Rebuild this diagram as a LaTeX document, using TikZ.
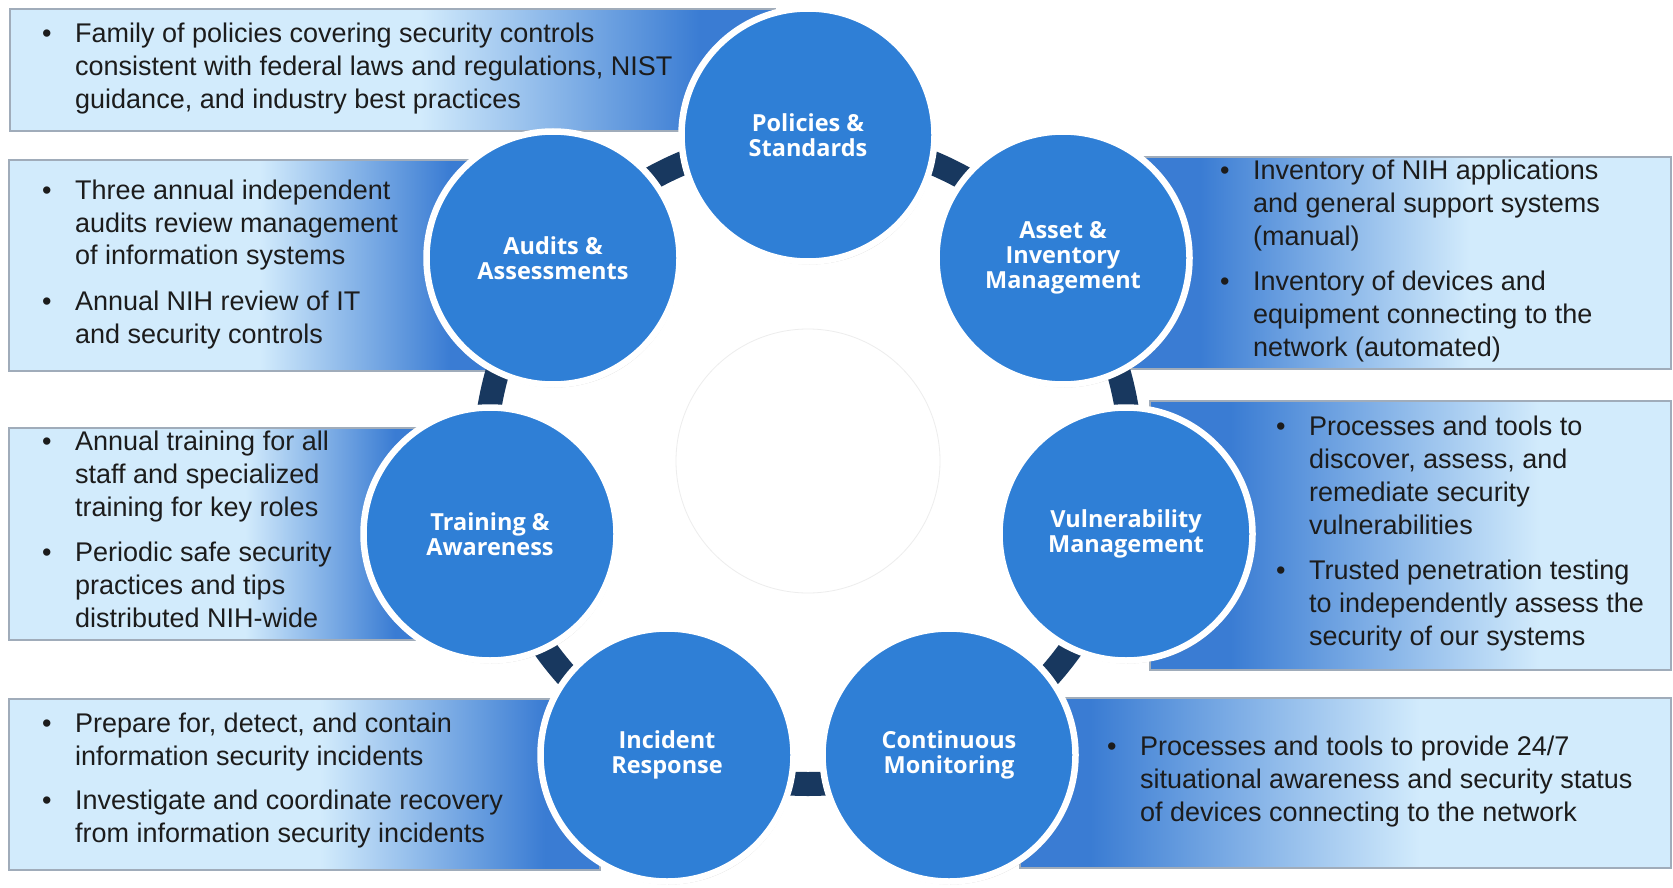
\documentclass[tikz,border=0pt]{standalone}
\usepackage{fontspec}
\setmainfont{Liberation Sans}
\newfontfamily\lblfont{Open Sans}
\usetikzlibrary{shadows}
\definecolor{circblue}{RGB}{47,127,214}
\definecolor{ringnavy}{RGB}{24,56,95}
\definecolor{boxlight}{RGB}{210,235,252}
\definecolor{boxblue}{RGB}{58,124,211}
\definecolor{boxedge}{RGB}{160,172,186}
\definecolor{txt}{RGB}{28,28,28}
\newcommand{\lgbox}[6]{%
  \fill[boxblue] (#1,#2) rectangle (#3,#4);
  \fill[boxlight] (#1,#2) rectangle (#5+1,#4);
  \shade[left color=boxlight,right color=boxblue] (#5,#2) rectangle (#6,#4);
  \draw[boxedge,line width=1.2pt] (#1,#2) rectangle (#3,#4);}
\newcommand{\rgbox}[6]{%
  \fill[boxlight] (#1,#2) rectangle (#3,#4);
  \fill[boxblue] (#1,#2) rectangle (#5+1,#4);
  \shade[left color=boxblue,right color=boxlight] (#5,#2) rectangle (#6,#4);
  \draw[boxedge,line width=1.2pt] (#1,#2) rectangle (#3,#4);}
\tikzset{
  circ/.style={circle,minimum size=253pt,inner sep=0pt,fill=circblue,draw=white,line width=6.5pt,
    drop shadow={shadow xshift=1.5pt,shadow yshift=-3pt,opacity=0.25,fill=black!70},
    text=white,align=center,font=\lblfont\bfseries\fontsize{23.5pt}{25pt}\selectfont},
  btext/.style={anchor=base west,inner sep=0pt,text=txt,font=\fontsize{27pt}{33pt}\selectfont},
}
\begin{document}
\begin{tikzpicture}[x=1pt,y=-1pt]
\useasboundingbox (0,0) rectangle (1673,888);
\fill[white] (0,0) rectangle (1673,888);
% boxes
\lgbox{10}{9}{775}{131}{420}{700}
\lgbox{9}{160}{505}{371}{260}{450}
\lgbox{9}{428}{455}{640}{245}{395}
\lgbox{9}{699}{600}{870}{320}{545}
\rgbox{1100}{157}{1671}{369}{1200}{1470}
\rgbox{1150}{401}{1671}{670}{1230}{1540}
\rgbox{1020}{698}{1671}{868}{1090}{1420}
% centre and ring
\node[circle,minimum size=264pt,inner sep=0pt,fill=white,draw=black!7,line width=0.8pt] (ctr) at (808,461) {};
\draw[ringnavy,line width=24pt] (ctr.center) circle[radius=323pt];
% circles
\node[circ] (pol) at (808,135) {Policies \&\\Standards};
\node[circ] (ast) at (1063,258) {Asset \&\\Inventory\\Management};
\node[circ] (vul) at (1126,534) {Vulnerability\\Management};
\node[circ] (con) at (949,755) {Continuous\\Monitoring};
\node[circ] (inc) at (667,755) {Incident\\Response};
\node[circ] (trn) at (490,534) {Training \&\\Awareness};
\node[circ] (aud) at (553,258) {Audits \&\\Assessments};
% texts
\node[btext] (t1) at (42,43) {\begin{tabular}[t]{@{}p{33pt}@{}l@{}}
\textbullet & Family of policies covering security controls\\
 & consistent with federal laws and regulations, NIST\\
 & guidance, and industry best practices
\end{tabular}};
\node[btext] (t2) at (42,199) {\begin{tabular}[t]{@{}p{33pt}@{}l@{}}
\textbullet & Three annual independent\\
 & audits review management\\
 & of information systems\\[12pt]
\textbullet & Annual NIH review of IT\\
 & and security controls
\end{tabular}};
\node[btext] (t3) at (42,450) {\begin{tabular}[t]{@{}p{33pt}@{}l@{}}
\textbullet & Annual training for all\\
 & staff and specialized\\
 & training for key roles\\[12pt]
\textbullet & Periodic safe security\\
 & practices and tips\\
 & distributed NIH-wide
\end{tabular}};
\node[btext] (t4) at (42,732) {\begin{tabular}[t]{@{}p{33pt}@{}l@{}}
\textbullet & Prepare for, detect, and contain\\
 & information security incidents\\[11pt]
\textbullet & Investigate and coordinate recovery\\
 & from information security incidents
\end{tabular}};
\node[btext] (t5) at (1220,179) {\begin{tabular}[t]{@{}p{33pt}@{}l@{}}
\textbullet & Inventory of NIH applications\\
 & and general support systems\\
 & (manual)\\[12pt]
\textbullet & Inventory of devices and\\
 & equipment connecting to the\\
 & network (automated)
\end{tabular}};
\node[btext] (t6) at (1276,435) {\begin{tabular}[t]{@{}p{33pt}@{}l@{}}
\textbullet & Processes and tools to\\
 & discover, assess, and\\
 & remediate security\\
 & vulnerabilities\\[12pt]
\textbullet & Trusted penetration testing\\
 & to independently assess the\\
 & security of our systems
\end{tabular}};
\node[btext] (t7) at (1107,755) {\begin{tabular}[t]{@{}p{33pt}@{}l@{}}
\textbullet & Processes and tools to provide 24/7\\
 & situational awareness and security status\\
 & of devices connecting to the network
\end{tabular}};
\end{tikzpicture}
\end{document}
